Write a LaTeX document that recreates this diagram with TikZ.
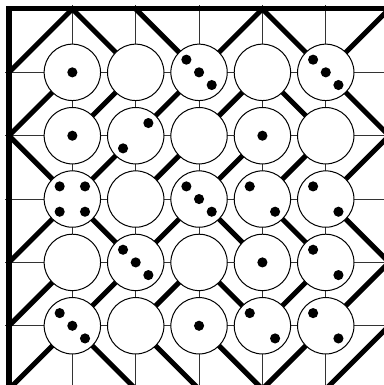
\documentclass[tikz,border=0pt]{standalone}
\usetikzlibrary{calc}
\tikzset{
  gridline/.style={line width=0.45pt, black!80},
  wall/.style={line width=2.25pt, black},
  border/.style={line width=2.25pt, black, line join=miter},
  cell/.style={circle, draw, fill=white, line width=0.45pt, minimum size=0.89cm, inner sep=0pt},
  pip/.style={circle, fill=black, inner sep=0pt, minimum size=0.16cm},
  face one/.pic={\node[pip] (a) at (0,0) {};},
  face two/.pic={\node[pip] (a) at (-0.2,0.2) {}; \node[pip] (b) at (0.2,-0.2) {};},
  face two up/.pic={\node[pip] (a) at (0.2,0.2) {}; \node[pip] (b) at (-0.2,-0.2) {};},
  face three/.pic={\node[pip] (a) at (-0.2,0.2) {}; \node[pip] (b) at (0,0) {}; \node[pip] (c) at (0.2,-0.2) {};},
  face four/.pic={\node[pip] (a) at (-0.2,0.2) {}; \node[pip] (b) at (0.2,0.2) {}; \node[pip] (c) at (-0.2,-0.2) {}; \node[pip] (d) at (0.2,-0.2) {};},
}
\begin{document}
\begin{tikzpicture}
\useasboundingbox (-0.142,0.142) rectangle (5.919,-5.935);
\clip (-0.142,0.142) rectangle (5.919,-5.935);
% lattice points
\foreach \i in {0,...,6} \foreach \j in {0,...,6} \coordinate (p\i-\j) at (\i,-\j);
% thin grid lines
\foreach \k in {1,...,5} {
  \draw[gridline, shorten <=-1.6pt] (p\k-0) -- (p\k-6);
  \draw[gridline, shorten <=-1.6pt] (p0-\k) -- (p6-\k);
}
% thick diagonals "/"
\foreach \i/\j [evaluate=\i as \ii using int(\i+1), evaluate=\j as \jj using int(\j+1)] in
  {0/0,3/0,5/0, 0/1,1/1,2/1,3/1, 1/2,2/2,3/2,4/2,5/2, 0/3,2/3, 0/4,1/4,2/4,4/4,5/4, 0/5,4/5,5/5}
  \draw[wall] (p\i-\jj) -- (p\ii-\j);
% thick diagonals "\"
\foreach \i/\j [evaluate=\i as \ii using int(\i+1), evaluate=\j as \jj using int(\j+1)] in
  {1/0,2/0,4/0, 4/1,5/1, 0/2, 1/3,3/3,4/3,5/3, 3/4, 1/5,2/5,3/5}
  \draw[wall] (p\i-\j) -- (p\ii-\jj);
% border
\draw[border] (p0-6) -- (p0-0) -- (p6-0);
% circles
\foreach \i in {1,...,5} \foreach \j in {1,...,5} \node[cell] (c\i-\j) at (p\i-\j) {};
% pips
\foreach \i/\j/\f in {1/1/one, 3/1/three, 5/1/three,
  1/2/one, 2/2/two up, 4/2/one,
  1/3/four, 3/3/three, 4/3/two, 5/3/two,
  2/4/three, 4/4/one, 5/4/two,
  1/5/three, 3/5/one, 4/5/two, 5/5/two}
  \pic (f\i-\j) at (c\i-\j) {face \f};
\end{tikzpicture}
\end{document}
